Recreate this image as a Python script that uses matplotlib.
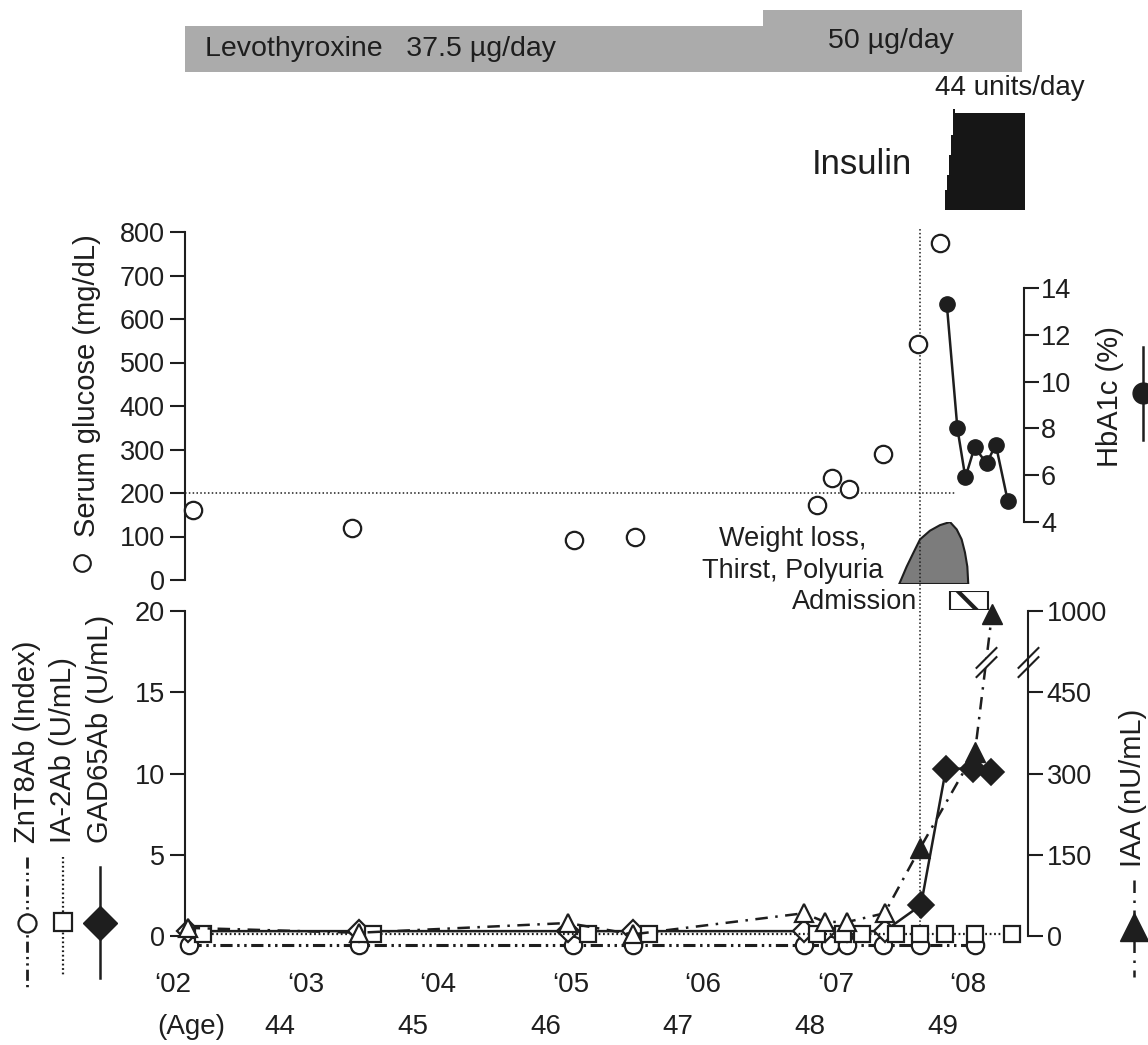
import matplotlib.pyplot as plt
import matplotlib.transforms as mtransforms
from matplotlib.path import Path
import numpy as np

plt.rcParams['font.family'] = ['Liberation Sans', 'DejaVu Sans']
plt.rcParams['hatch.linewidth'] = 3.0

W, H = 1148, 1045
PXY = 132.5                    # pixels per year on the shared time axis
X0 = 2002 - 173 / PXY
X1 = X0 + W / PXY
FS = 19.5
FL = 21          # axis titles
INK = '#1e1e1e'

# ---------------- data ----------------
year_ticks = [2002, 2003, 2004, 2005, 2006, 2007, 2008]
year_labels = ['\u201802', '\u201803', '\u201804', '\u201805', '\u201806', '\u201807', '\u201808']
ages = [44, 45, 46, 47, 48, 49]
birth = 1958.81

# serum glucose (mg/dL)
gluc_t = [2002.15, 2003.35, 2005.03, 2005.49, 2006.86, 2006.97, 2007.10, 2007.36, 2007.62, 2007.79]
gluc = [160, 120, 92, 100, 172, 234, 209, 290, 542, 775]

# HbA1c (%)
hba1c_t = [2007.84, 2007.92, 2007.98, 2008.05, 2008.14, 2008.21, 2008.30]
hba1c = [13.3, 8.0, 5.9, 7.2, 6.5, 7.3, 4.9]

# ZnT8Ab (index)
znt8_t = [2002.12, 2003.40, 2005.02, 2005.47, 2006.76, 2006.96, 2007.09, 2007.36, 2007.64, 2008.05]
znt8 = [0, 0, 0, 0, 0, 0, 0, 0, 0, 0]

# IA-2Ab (U/mL)
ia2_t = [2002.23, 2003.51, 2005.13, 2005.59, 2006.86, 2007.06, 2007.20, 2007.46, 2007.64, 2007.83, 2008.05, 2008.33]
ia2 = [0.1, 0.1, 0.1, 0.1, 0.1, 0.1, 0.1, 0.1, 0.1, 0.1, 0.1, 0.1]

# GAD65Ab (U/mL)
gad_t = [2002.11, 2003.40, 2004.98, 2005.47, 2006.76, 2006.92, 2007.09, 2007.37, 2007.645, 2007.834, 2008.038, 2008.174]
gad = [0.3, 0.3, 0.3, 0.3, 0.3, 0.3, 0.3, 0.3, 1.9, 10.3, 10.3, 10.1]
gad_cut = 1.5

# IAA (nU/mL)
iaa_t = [2002.11, 2003.40, 2004.98, 2005.47, 2006.76, 2006.92, 2007.09, 2007.37, 2007.638, 2008.053, 2008.181]
iaa = [15, 6, 24, 3, 42, 26, 26, 42, 162, 340, 980]
iaa_cut = 125

# treatments / events
levo_start = [2002.09, 2006.45]
levo_end = [2006.45, 2008.41]
levo_dose = [37.5, 50]
ins_edges = [2007.826, 2007.842, 2007.857, 2007.872, 2007.887, 2007.902, 2008.43]
ins_dose = [9, 16, 25, 34, 46, 44]
sympt_t = [2007.481, 2007.537, 2007.587, 2007.638, 2007.713, 2007.789, 2007.864,
           2007.915, 2007.952, 2007.977, 2007.995, 2008.002]
sympt = [0, 0.28, 0.50, 0.72, 0.86, 0.95, 1.0, 0.88, 0.72, 0.51, 0.28, 0]
adm_start, adm_end = 2007.864, 2008.151
onset = 2007.638
spine_l, spine_h, spine_i = 2002.09, 2008.42, 2008.453

fig = plt.figure(figsize=(W / 100, H / 100), dpi=100)


def band(top, bottom):
    ax = fig.add_axes([0, 1 - bottom / H, 1, (bottom - top) / H])
    ax.set_xlim(X0, X1)
    ax.patch.set_visible(False)
    for s in ax.spines.values():
        s.set_visible(False)
    ax.set_xticks([])
    ax.set_yticks([])
    return ax


def T(x, y, s, **kw):
    kw.setdefault('fontsize', FS)
    kw.setdefault('color', INK)
    fig.text(x / W, 1 - y / H, s, **kw)


def yaxis(ax, side, pos, lo, hi, ticks, pad):
    sp = ax.spines[side]
    sp.set_visible(True)
    sp.set_position(('data', pos))
    sp.set_bounds(lo, hi)
    sp.set_linewidth(1.5)
    sp.set_color(INK)
    ax.set_yticks(ticks)
    if side == 'left':
        ax.yaxis.tick_left()
    else:
        ax.yaxis.tick_right()
    ax.tick_params(axis='y', direction='out', length=10.5, width=1.5, colors=INK,
                   labelsize=FS, pad=pad)


# levothyroxine
alv = band(10, 72)
alv.set_ylim(0, 50)
alv.bar(levo_start, levo_dose, width=np.subtract(levo_end, levo_start), align='edge',
        color='#ababab', linewidth=0)

# insulin
ains = band(113, 210)
ains.set_ylim(0, 44)
ains.stairs(ins_dose, ins_edges, fill=True, color='#161616')
for a in ains.patches:
    a.set_clip_on(False)

# symptoms
asy = band(522, 584)
asy.set_ylim(0, 1)
asy.fill(sympt_t, sympt, facecolor='#7c7c7c', edgecolor=INK, linewidth=1.5)

# admission
aad = band(591, 610)
aad.set_ylim(0, 1)
aad.barh(0.5, adm_end - adm_start, left=adm_start, height=1, facecolor='white',
         edgecolor=INK, hatch='\\', linewidth=1.5)

# ---------------- lower panel: autoantibodies ----------------
al = band(611, 936)
al.set_ylim(0, 20)
yaxis(al, 'left', spine_l, 0, 20, [0, 5, 10, 15, 20], 4)
al.axvline(onset, ymin=-0.015, ymax=(936 - 228) / 325, color=INK, lw=1.1,
           ls=(0, (1, 1.5)), clip_on=False, zorder=1)

low = mtransforms.offset_copy(al.transData, fig=fig, y=-9, units='dots')
al.plot(znt8_t, znt8, color=INK, lw=2.2, ls=(0, (4, 1.5, 0.8, 1.5, 0.8, 1.5)),
        marker='o', ms=12.5, mfc='white', mec=INK, mew=1.6, transform=low, clip_on=False)
al.plot(gad_t, gad, color=INK, lw=1.8, clip_on=False)
gad_a = np.array(gad)
gad_ta = np.array(gad_t)
neg = gad_a < gad_cut
al.plot(gad_ta[neg], gad_a[neg], 'D', ms=11, mfc='white', mec=INK, mew=1.6, clip_on=False)
al.plot(ia2_t, ia2, color=INK, lw=1.6, ls=(0, (0.8, 1.2)), marker='s', ms=12,
        mfc='white', mec=INK, mew=1.6, clip_on=False)
al.plot(gad_ta[~neg], gad_a[~neg], 'D', ms=13, mfc=INK, mec=INK, mew=1.2, clip_on=False)
for i, lab in enumerate(year_labels):
    al.text(year_ticks[i], -0.151, lab, transform=al.get_xaxis_transform(),
            ha='center', va='center', fontsize=FS + 0.5, color=INK)
for a in ages:
    al.text(birth + a, -0.28, str(a), transform=al.get_xaxis_transform(),
            ha='center', va='center', fontsize=FS + 0.5, color=INK)


def fwd(v):
    v = np.asarray(v, dtype=float)
    return np.where(v <= 450, v / 30, 15 + (v - 450) / 110)


def inv(u):
    u = np.asarray(u, dtype=float)
    return np.where(u <= 15, u * 30, 450 + (u - 15) * 110)


ai = al.twinx()
ai.set_yscale('function', functions=(fwd, inv))
ai.set_ylim(0, 1000)
ai.set_xlim(X0, X1)
for s in ai.spines.values():
    s.set_visible(False)
yaxis(ai, 'right', spine_i, 0, 1000, [0, 150, 300, 450, 1000], 3)
ai.yaxis.set_major_formatter(plt.FuncFormatter(lambda v, p: '%d' % round(v)))
ai.yaxis.set_minor_locator(plt.NullLocator())
iaa_a = np.array(iaa)
iaa_ta = np.array(iaa_t)
pos = iaa_a >= iaa_cut
ai.plot(iaa_t, iaa, color=INK, lw=1.8, ls=(0, (5, 3, 1, 3)), clip_on=False)
ai.plot(iaa_ta[~pos], iaa_a[~pos], '^', ms=13, mfc='white', mec=INK, mew=1.6, clip_on=False)
ai.plot(iaa_ta[pos], iaa_a[pos], '^', ms=14, mfc=INK, mec=INK, clip_on=False)

# axis breaks
verts = [(-0.7, -1), (0.7, 0.4), (-0.7, -0.4), (0.7, 1)]
slash = Path(verts, [Path.MOVETO, Path.LINETO, Path.MOVETO, Path.LINETO])
gap = Path([(-0.7, -1), (0.7, 0.4), (0.7, 1), (-0.7, -0.4), (-0.7, -1)],
           [Path.MOVETO, Path.LINETO, Path.LINETO, Path.LINETO, Path.CLOSEPOLY])
u_brk = fwd(655)
u0, u1 = fwd(iaa[-2]), fwd(iaa[-1])
x_brk = iaa_t[-2] + (u_brk - u0) / (u1 - u0) * (iaa_t[-1] - iaa_t[-2])
for xb in (spine_i, x_brk):
    ai.plot(xb, 655, marker=gap, ms=22, mfc='white', mec='none', clip_on=False)
    ai.plot(xb, 655, marker=slash, ms=22, mec=INK, mew=1.5, clip_on=False)

# ---------------- upper panel: glucose / HbA1c ----------------
ag = band(232, 580)
ag.set_ylim(0, 800)
yaxis(ag, 'left', spine_l, 0, 800, list(range(0, 801, 100)), 4)
ag.hlines(200, spine_l, 2007.90, color=INK, lw=1.1, linestyles=[(0, (1, 1.5))])
ag.plot(gluc_t, gluc, 'o', ms=12.5, mfc='white', mec=INK, mew=1.6, clip_on=False)

ah = ag.twinx()
ah.set_ylim(1.52, 16.39)
ah.set_xlim(X0, X1)
for s in ah.spines.values():
    s.set_visible(False)
yaxis(ah, 'right', spine_h, 4, 14, [4, 6, 8, 10, 12, 14], 2)
ah.plot(hba1c_t, hba1c, '-o', color=INK, lw=1.8, ms=11, clip_on=False)

# ---------------- overlay: legends and labels ----------------
ov = fig.add_axes([0, 0, 1, 1])
ov.set_xlim(0, W)
ov.set_ylim(H, 0)
ov.axis('off')
ov.plot(82, 563, 'o', ms=12, mfc='white', mec=INK, mew=1.5)
ov.plot([27, 27], [857, 990], color=INK, lw=2, ls=(0, (4, 1.5, 0.8, 1.5, 0.8, 1.5)))
ov.plot(27, 923, 'o', ms=13, mfc='white', mec=INK, mew=1.6)
ov.plot([63, 63], [857, 977], color=INK, lw=1.6, ls=(0, (0.8, 1.2)))
ov.plot(63, 922, 's', ms=12.5, mfc='white', mec=INK, mew=1.6)
ov.plot([100, 100], [867, 978], color=INK, lw=1.8)
ov.plot(100, 923, 'D', ms=17, mfc=INK, mec=INK)
ov.plot([1134, 1134], [880, 977], color=INK, lw=1.8, ls=(0, (5, 3, 1, 3)))
ov.plot(1134, 927, '^', ms=20, mfc=INK, mec=INK)
ov.plot([1143, 1143], [347, 440], color=INK, lw=1.8)
ov.plot(1143, 393, 'o', ms=15, mfc=INK, mec=INK)

rot = dict(rotation=90, rotation_mode='anchor', ha='left', va='center', fontsize=FL)
T(87, 537, 'Serum glucose (mg/dL)', **rot)
T(27, 843, 'ZnT8Ab (Index)', **rot)
T(63, 843, 'IA-2Ab (U/mL)', **rot)
T(100, 843, 'GAD65Ab (U/mL)', **rot)
T(1110, 467, 'HbA1c (%)', **rot)
T(1133, 867, 'IAA (nU/mL)', **rot)

T(205, 49, 'Levothyroxine   37.5 \u00b5g/day', ha='left', va='center', fontsize=20.5)
T(828, 41, '50 \u00b5g/day', ha='left', va='center', fontsize=20.5)
T(1010, 88, '44 units/day', ha='center', va='center', fontsize=20)
T(912, 165, 'Insulin', ha='right', va='center', fontsize=25)
T(793, 539, 'Weight loss,', ha='center', va='center')
T(793, 571, 'Thirst, Polyuria', ha='center', va='center')
T(917, 602, 'Admission', ha='right', va='center')
T(157, 1027, '(Age)', ha='left', va='center', fontsize=FS + 0.5)

fig.savefig('out.png', dpi=100)
